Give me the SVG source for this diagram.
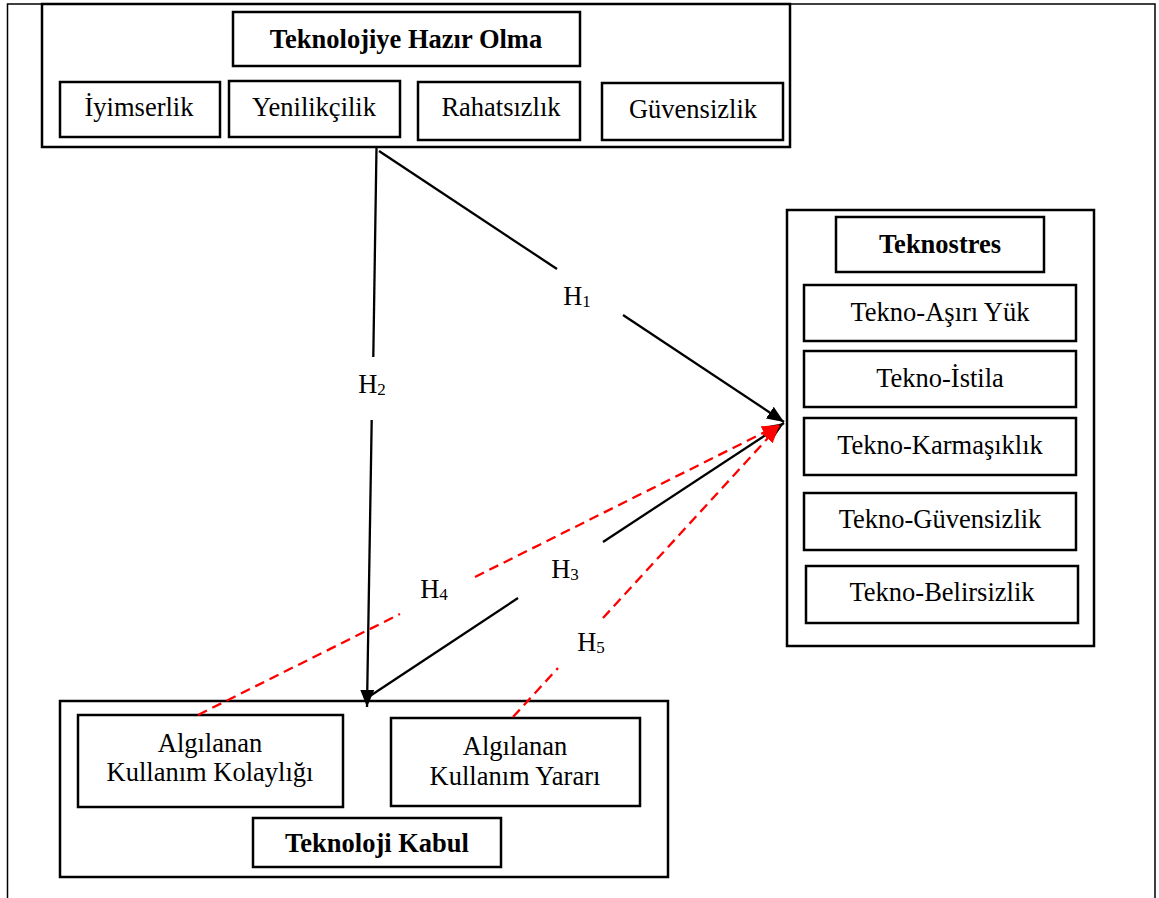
<svg xmlns="http://www.w3.org/2000/svg" width="1159" height="898" viewBox="0 0 1159 898">
  <style>
    .frame { fill: none; stroke: #000; stroke-width: 1.5; }
    .group { fill: #fff; stroke: #000; stroke-width: 2.5; }
    .box { fill: #fff; stroke: #000; stroke-width: 2.5; }
    .lbl { font-family: "Liberation Serif", "Times New Roman", serif; font-size: 26.5px; fill: #000; text-anchor: middle; }
    .ttl { font-family: "Liberation Serif", "Times New Roman", serif; font-size: 26.5px; font-weight: bold; fill: #000; text-anchor: middle; }
    .hyp { font-family: "Liberation Serif", "Times New Roman", serif; font-size: 26.5px; fill: #000; text-anchor: middle; }
    .sub { font-size: 17px; }
    .solid { fill: none; stroke: #000; stroke-width: 2.3; }
    .dash { fill: none; stroke: #ff0000; stroke-width: 2.3; stroke-dasharray: 10 6; }
  </style>
  <defs>
    <marker id="arrowBlack" markerUnits="userSpaceOnUse" markerWidth="18" markerHeight="15" refX="17" refY="7" orient="auto">
      <path d="M0,0 L17,7 L0,14 z" fill="#000"/>
    </marker>
    <marker id="arrowRed" markerUnits="userSpaceOnUse" markerWidth="18" markerHeight="15" refX="17" refY="7" orient="auto">
      <path d="M0,0 L17,7 L0,14 z" fill="#ff0000"/>
    </marker>
  </defs>

  <rect width="1159" height="898" fill="#fff"/>
  <!-- page frame -->
  <path class="frame" d="M7.5,900 L7.5,4 L1155,4 L1155,900"/>

  <!-- Technology readiness -->
  <g id="teknolojiye-hazir-olma">
    <rect class="group" x="42" y="4" width="748" height="143"/>
    <rect class="box" x="233" y="12" width="347" height="54"/>
    <text class="ttl" x="406" y="48">Teknolojiye Hazır Olma</text>
    <rect class="box" x="60" y="82" width="160" height="55"/>
    <text class="lbl" x="139" y="116">İyimserlik</text>
    <rect class="box" x="229" y="81" width="171" height="56"/>
    <text class="lbl" x="314" y="116">Yenilikçilik</text>
    <rect class="box" x="418" y="82" width="162" height="58"/>
    <text class="lbl" x="501" y="116">Rahatsızlık</text>
    <rect class="box" x="602" y="83" width="181" height="57"/>
    <text class="lbl" x="693" y="118">Güvensizlik</text>
  </g>

  <!-- Technostress -->
  <g id="teknostres">
    <rect class="group" x="787" y="210" width="307" height="436"/>
    <rect class="box" x="836" y="217" width="208" height="55"/>
    <text class="ttl" x="940" y="253">Teknostres</text>
    <rect class="box" x="804" y="285" width="272" height="56"/>
    <text class="lbl" x="940" y="321">Tekno-Aşırı Yük</text>
    <rect class="box" x="804" y="351" width="272" height="56"/>
    <text class="lbl" x="940" y="387">Tekno-İstila</text>
    <rect class="box" x="804" y="418" width="272" height="57"/>
    <text class="lbl" x="940" y="454">Tekno-Karmaşıklık</text>
    <rect class="box" x="804" y="493" width="272" height="57"/>
    <text class="lbl" x="940" y="528">Tekno-Güvensizlik</text>
    <rect class="box" x="806" y="566" width="272" height="57"/>
    <text class="lbl" x="942" y="601">Tekno-Belirsizlik</text>
  </g>

  <!-- Technology acceptance -->
  <g id="teknoloji-kabul">
    <rect class="group" x="60" y="701" width="608" height="176"/>
    <rect class="box" x="78" y="715" width="265" height="92"/>
    <text class="lbl" x="210" y="752">Algılanan</text>
    <text class="lbl" x="210" y="781">Kullanım Kolaylığı</text>
    <rect class="box" x="391" y="718" width="249" height="88"/>
    <text class="lbl" x="515" y="755">Algılanan</text>
    <text class="lbl" x="515" y="785">Kullanım Yararı</text>
    <rect class="box" x="253" y="818" width="248" height="49"/>
    <text class="ttl" x="377" y="852">Teknoloji Kabul</text>
  </g>

  <!-- hypothesis paths -->
  <g id="connectors">
    <!-- H1 -->
    <line class="solid" x1="379" y1="151" x2="557" y2="269"/>
    <line class="solid" x1="623" y1="315" x2="784" y2="422" marker-end="url(#arrowBlack)"/>
    <!-- H2 -->
    <line class="solid" x1="376.5" y1="147" x2="373.3" y2="357"/>
    <line class="solid" x1="371.7" y1="420" x2="367" y2="707" marker-end="url(#arrowBlack)"/>
    <!-- H3 -->
    <line class="solid" x1="370" y1="696" x2="518" y2="598"/>
    <line class="solid" x1="603" y1="542" x2="784" y2="423" marker-end="url(#arrowBlack)"/>
    <!-- H4 -->
    <line class="dash" x1="198" y1="715" x2="400" y2="614"/>
    <line class="dash" x1="475" y1="577" x2="779" y2="425" marker-end="url(#arrowRed)"/>
    <!-- H5 -->
    <line class="dash" x1="513" y1="717" x2="558" y2="668"/>
    <line class="dash" x1="603" y1="618" x2="779" y2="426" marker-end="url(#arrowRed)"/>

    <text class="hyp" x="577" y="305">H<tspan class="sub" dy="2">1</tspan></text>
    <text class="hyp" x="372" y="393">H<tspan class="sub" dy="2">2</tspan></text>
    <text class="hyp" x="565" y="578">H<tspan class="sub" dy="2">3</tspan></text>
    <text class="hyp" x="434" y="598">H<tspan class="sub" dy="2">4</tspan></text>
    <text class="hyp" x="591" y="651">H<tspan class="sub" dy="2">5</tspan></text>
  </g>
</svg>
